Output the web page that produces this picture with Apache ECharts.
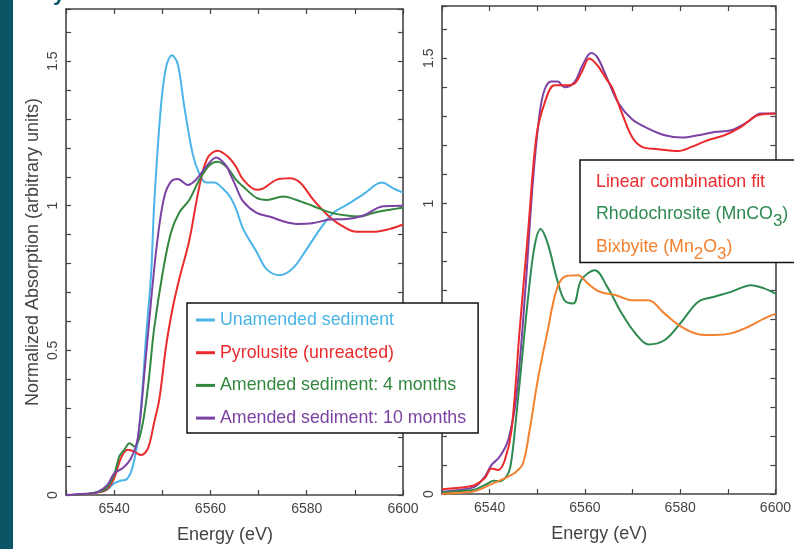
<!DOCTYPE html>
<html><head><meta charset="utf-8">
<script src="https://cdn.jsdelivr.net/npm/echarts@6/dist/echarts.min.js"></script>
<style>html,body{margin:0;padding:0;background:#fff}#c{width:794px;height:549px}</style>
</head><body><div id="c"></div>
<script>
// ---- data (Energy eV, normalized absorption) ----
const unamended = [[6530,0.0],[6534,0.003],[6537,0.01],[6538.5,0.018],[6540,0.04],[6541.5,0.05],[6542.5,0.053],[6543.5,0.08],[6544.3,0.13],[6545,0.2],[6545.9,0.37],[6546.6,0.54],[6547.7,0.77],[6548.3,1.0],[6549.7,1.34],[6550.8,1.48],[6552,1.52],[6553.2,1.49],[6554.6,1.34],[6556.3,1.18],[6557.7,1.11],[6559.1,1.08],[6560.8,1.08],[6562.5,1.06],[6564.1,1.03],[6565.3,0.99],[6566.8,0.92],[6569.6,0.84],[6571.7,0.78],[6574.5,0.76],[6577.2,0.785],[6580,0.85],[6582.8,0.92],[6585.5,0.975],[6588.3,1.003],[6591.8,1.04],[6595.6,1.08],[6598,1.06],[6600,1.045]];
const pyrolusite = [[6530,0.0],[6534,0.003],[6537,0.01],[6538.5,0.02],[6540,0.058],[6541.4,0.127],[6542.8,0.156],[6544.2,0.15],[6545.6,0.138],[6547,0.16],[6548.3,0.25],[6549.4,0.333],[6550.8,0.516],[6552.2,0.65],[6553.5,0.745],[6555.6,0.88],[6557.7,1.066],[6559.4,1.165],[6561.5,1.19],[6563.6,1.17],[6565.3,1.135],[6566.8,1.09],[6569.6,1.055],[6571,1.06],[6573.8,1.09],[6576.5,1.095],[6578.6,1.08],[6581.4,1.02],[6584.2,0.97],[6586.9,0.935],[6590.4,0.91],[6593.8,0.91],[6597.3,0.92],[6600,0.935]];
const amended4 = [[6530,0.0],[6534,0.003],[6537,0.012],[6538.5,0.025],[6540,0.07],[6541.1,0.134],[6542.1,0.156],[6543.2,0.179],[6544.2,0.168],[6545.6,0.22],[6547,0.37],[6548.3,0.574],[6550.1,0.77],[6551.8,0.907],[6553.5,0.976],[6555.6,1.02],[6557.7,1.09],[6559.8,1.14],[6561.5,1.152],[6563.6,1.13],[6565.3,1.09],[6566.8,1.066],[6569.6,1.027],[6571.7,1.02],[6575.1,1.032],[6577.9,1.02],[6581.4,0.998],[6584.8,0.977],[6588.3,0.966],[6591.1,0.963],[6593.8,0.975],[6597.3,0.986],[6600,0.993]];
const amended10 = [[6530,0.0],[6534,0.004],[6536.5,0.01],[6538.6,0.035],[6540,0.075],[6541.8,0.093],[6543.5,0.127],[6544.9,0.196],[6546.3,0.425],[6547.7,0.677],[6549,0.883],[6550.4,1.03],[6551.8,1.083],[6553.2,1.092],[6555.3,1.072],[6557,1.09],[6559.1,1.135],[6561.2,1.167],[6563.2,1.14],[6564.1,1.11],[6565.3,1.066],[6566.8,1.015],[6569.6,0.975],[6572.4,0.962],[6575.1,0.946],[6577.9,0.937],[6581.4,0.94],[6584.8,0.952],[6588.3,0.954],[6591.8,0.966],[6595.9,0.998],[6600,1.0]];

const sampleData = [[6530,0.008],[6534,0.015],[6536.9,0.025],[6539,0.06],[6540.4,0.1],[6542.1,0.128],[6543.9,0.186],[6545.6,0.335],[6547.4,0.68],[6549.1,1.08],[6550.5,1.31],[6551.5,1.39],[6552.9,1.42],[6554.3,1.42],[6555.7,1.40],[6557.8,1.418],[6559.5,1.476],[6561.3,1.518],[6562.6,1.504],[6564.7,1.43],[6567.1,1.344],[6569.9,1.29],[6573.3,1.258],[6576.8,1.235],[6580.3,1.227],[6583.8,1.235],[6587.2,1.246],[6590.7,1.252],[6594.2,1.281],[6596.9,1.31],[6600,1.31]];
const lcFit = [[6530,0.016],[6534,0.022],[6536.9,0.031],[6539,0.055],[6540.4,0.088],[6541.8,0.083],[6543.2,0.117],[6544.6,0.22],[6546.3,0.564],[6548.1,0.908],[6549.8,1.229],[6551.5,1.344],[6553.6,1.407],[6555.7,1.407],[6557.8,1.413],[6559.5,1.459],[6560.9,1.499],[6562.6,1.476],[6564.7,1.424],[6565.7,1.40],[6567.8,1.31],[6569.9,1.229],[6572,1.195],[6575.4,1.187],[6579.6,1.181],[6582.4,1.195],[6585.8,1.218],[6589.3,1.235],[6592.8,1.264],[6596.3,1.304],[6600,1.31]];
const rhodochrosite = [[6530,0.005],[6534,0.01],[6537,0.016],[6539.7,0.037],[6540.8,0.046],[6542.1,0.043],[6543.9,0.071],[6544.6,0.12],[6545.3,0.22],[6546.7,0.45],[6548.1,0.68],[6549.4,0.85],[6550.7,0.912],[6552.2,0.862],[6554,0.748],[6555.7,0.667],[6557.6,0.656],[6559.2,0.736],[6562.1,0.77],[6564.7,0.713],[6567.8,0.62],[6570.6,0.553],[6573.3,0.515],[6576.8,0.53],[6580.3,0.593],[6583.8,0.662],[6587.2,0.679],[6590.7,0.696],[6594.9,0.719],[6597.6,0.708],[6600,0.69]];
const bixbyite = [[6530,0.0],[6534,0.004],[6537,0.01],[6540.4,0.034],[6542.1,0.046],[6543.9,0.06],[6545.6,0.077],[6547,0.105],[6548.4,0.22],[6550.1,0.392],[6552.2,0.564],[6554,0.70],[6555.7,0.748],[6558.5,0.753],[6560.6,0.725],[6562.6,0.70],[6564.5,0.69],[6566.4,0.685],[6569.9,0.667],[6573.3,0.667],[6576.8,0.62],[6580.3,0.575],[6583.8,0.55],[6587.2,0.547],[6590.7,0.553],[6594.2,0.575],[6597.6,0.604],[6600,0.62]];

const leftNames = ['Unamended sediment','Pyrolusite (unreacted)','Amended sediment: 4 months','Amended sediment: 10 months'];
const rightNames = ['Linear combination fit','Rhodochrosite (MnCO3)','Bixbyite (Mn2O3)'];
const xTickLabels = [6540, 6560, 6580, 6600];
const yTickLabels = [0, 0.5, 1, 1.5];

const C = {blue:'#4ab4e6', red:'#ea2b2d', green:'#33883f', purple:'#7b42a3', rgreen:'#2f8a52', orange:'#f3812f'};
const FONT = 'Liberation Sans, Arial, sans-serif';
const AX = '#444';

function xAx(gi, pos, label, name){
  return {type:'value', gridIndex:gi, position:pos, min:6530, max:6600, interval:10,
    axisLine:{show:true, onZero:false, lineStyle:{color:AX, width:1.6}},
    axisTick:{show:true, inside:true, length:5, lineStyle:{color:AX, width:1.2}},
    axisLabel:{show:label, margin:7, color:AX, fontSize:14, fontFamily:FONT,
      formatter:v=> xTickLabels.includes(Math.round(v)) ? String(Math.round(v)) : ''},
    splitLine:{show:false},
    name:name||'', nameLocation:'middle', nameGap:31,
    nameTextStyle:{fontSize:18, color:AX, fontFamily:FONT, padding:[0,19,0,0]}};
}
function yAx(gi, pos, label, name){
  return {type:'value', gridIndex:gi, position:pos, min:0, max:1.68, interval:0.1,
    axisLine:{show:true, onZero:false, lineStyle:{color:AX, width:1.6}},
    axisTick:{show:true, inside:true, length:5, lineStyle:{color:AX, width:1.2}},
    axisLabel:{show:label, rotate:90, margin:6, color:AX, fontSize:14, fontFamily:FONT,
      formatter:v=>{const r=Math.round(v*10)/10; return yTickLabels.some(t=>Math.abs(t-r)<1e-6) && Math.abs(v-r)<1e-6 ? String(r) : '';}},
    splitLine:{show:false},
    name:name||'', nameLocation:'middle', nameGap:24,
    nameTextStyle:{fontSize:18, color:AX, fontFamily:FONT}};
}
function line(name, data, color, xi, yi){
  return {type:'line', name, data, xAxisIndex:xi, yAxisIndex:yi, smooth:0.35,
    symbol:'none', showSymbol:false, lineStyle:{color, width:2}, itemStyle:{color}, z:2};
}

// every row carries one subscript-style token so all rows share the same height
const richMap = {
  'Linear combination fit':'{r|Linear combination fit}{rs| }',
  'Rhodochrosite (MnCO3)':'{g|Rhodochrosite (MnCO}{gs|3}{g|)}',
  'Bixbyite (Mn2O3)':'{o|Bixbyite (Mn}{os|2}{o|O}{os|3}{o|)}'
};
const LF = 17.8;
const SUB = {fontSize:17, fontFamily:FONT, padding:[14,0,0,0]};

const chart = echarts.init(document.getElementById('c'), null, {renderer:'canvas'});
chart.setOption({
  animation:false,
  backgroundColor:'#fff',
  grid:[
    {left:66, top:9, width:337, height:488},
    {left:442, top:6, width:336, height:488}
  ],
  xAxis:[xAx(0,'bottom',true,'Energy (eV)'), xAx(0,'top',false), xAx(1,'bottom',true,'Energy (eV)'), xAx(1,'top',false)],
  yAxis:[yAx(0,'left',true,'Normalized Absorption (arbitrary units)'), yAx(0,'right',false), yAx(1,'left',true), yAx(1,'right',false)],
  legend:[
    {orient:'vertical', left:187, top:303, selectedMode:false,
     icon:'rect', itemWidth:19, itemHeight:3, itemGap:12.7,
     padding:[7,12,5,9], backgroundColor:'#fff', borderColor:'#111', borderWidth:1.5,
     textStyle:{fontSize:LF, fontFamily:FONT, lineHeight:20},
     data:[
       {name:leftNames[0], textStyle:{color:C.blue}},
       {name:leftNames[1], textStyle:{color:C.red}},
       {name:leftNames[2], textStyle:{color:C.green}},
       {name:leftNames[3], textStyle:{color:C.purple}}
     ]},
    {orient:'vertical', left:580, top:160, selectedMode:false,
     icon:'rect', itemWidth:0, itemHeight:0, itemGap:8,
     padding:[13,40,0,11], backgroundColor:'#fff', borderColor:'#111', borderWidth:1.5,
     formatter:n=>richMap[n],
     textStyle:{fontSize:LF, fontFamily:FONT, rich:{
       r:{color:C.red, fontSize:LF, fontFamily:FONT},
       rs:Object.assign({color:C.red}, SUB),
       g:{color:C.rgreen, fontSize:LF, fontFamily:FONT},
       gs:Object.assign({color:C.rgreen}, SUB),
       o:{color:C.orange, fontSize:LF, fontFamily:FONT},
       os:Object.assign({color:C.orange}, SUB)
     }},
     data:rightNames}
  ],
  graphic:[
    {type:'rect', left:0, top:0, shape:{width:13, height:549}, style:{fill:'#0b5566'}, z:10},
    {type:'text', left:53, top:-17, style:{text:'y', font:'bold 22px '+FONT, fill:'#0b5566'}, z:10}
  ],
  series:[
    line(leftNames[0], unamended, C.blue, 0, 0),
    line(leftNames[1], pyrolusite, C.red, 0, 0),
    line(leftNames[2], amended4, C.green, 0, 0),
    line(leftNames[3], amended10, C.purple, 0, 0),
    line('Sample spectrum', sampleData, C.purple, 2, 2),
    line(rightNames[0], lcFit, C.red, 2, 2),
    line(rightNames[1], rhodochrosite, C.rgreen, 2, 2),
    line(rightNames[2], bixbyite, C.orange, 2, 2)
  ]
});
</script></body></html>
